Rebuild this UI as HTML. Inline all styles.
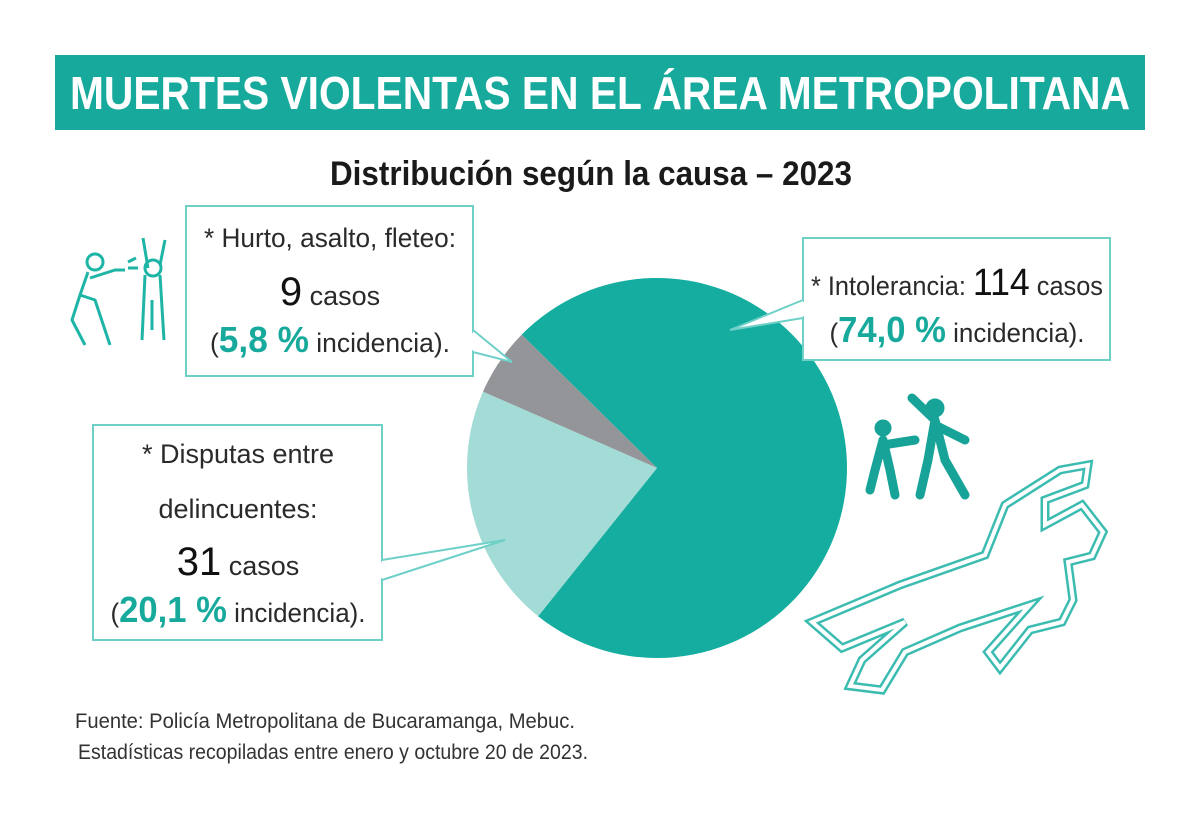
<!DOCTYPE html>
<html><head><meta charset="utf-8"><style>html,body{margin:0;padding:0;background:#fff}svg{display:block}</style></head>
<body>
<svg width="1200" height="820" viewBox="0 0 1200 820" xmlns="http://www.w3.org/2000/svg" font-family="'Liberation Sans Narrow','Liberation Sans',sans-serif">
<rect x="55" y="55" width="1090" height="75" fill="#17aa9c"/>
<text x="600" y="109" text-anchor="middle" fill="#fff" font-weight="bold" font-size="46" textLength="1060" lengthAdjust="spacingAndGlyphs">MUERTES VIOLENTAS EN EL ÁREA METROPOLITANA</text>
<text x="591" y="185" text-anchor="middle" fill="#1a1a1a" font-weight="bold" font-size="34" textLength="522" lengthAdjust="spacingAndGlyphs">Distribución según la causa – 2023</text>

<!-- pie: center 657,470 r 190 -->
<g transform="translate(657,468)">
<path d="M0,0 L-135.3,-133.4 A190,190 0 1 1 -118.9,148.2 Z" fill="#14ada0"/>
<path d="M0,0 L-135.3,-133.4 A190,190 0 0 0 -174,-76.3 Z" fill="#939598"/>
<path d="M0,0 L-174,-76.3 A190,190 0 0 0 -118.9,148.2 Z" fill="#a3dbd6"/>
</g>

<!-- callouts -->
<g fill="#fff" stroke="#6fd0c8" stroke-width="2">
<path d="M186,206 H473 V376 H186 Z"/>
<path d="M473,330 L512,362 L473,352" fill="#fff"/>
<path d="M93,425 H382 V640 H93 Z"/>
<path d="M382,560 L505,540 L382,580" fill="#fff"/>
<path d="M803,238 H1110 V360 H803 Z"/>
<path d="M803,300 L730,330 L803,318" fill="#fff"/>
</g>
<g fill="#fff"><rect x="471" y="333" width="4" height="17"/><rect x="380" y="562" width="4" height="16"/><rect x="801" y="302" width="4" height="14"/></g>

<g font-size="27" fill="#2a2a2a">
<text x="330" y="247" text-anchor="middle" textLength="252" lengthAdjust="spacingAndGlyphs">* Hurto, asalto, fleteo:</text>
<text x="330" y="305" text-anchor="middle"><tspan font-size="40" fill="#111">9</tspan> casos</text>
<text x="330" y="352" text-anchor="middle" textLength="240" lengthAdjust="spacingAndGlyphs">(<tspan font-size="36" fill="#17aa9c" font-weight="bold">5,8 %</tspan> incidencia).</text>

<text x="238" y="463" text-anchor="middle">* Disputas entre</text>
<text x="238" y="518" text-anchor="middle">delincuentes:</text>
<text x="238" y="575" text-anchor="middle"><tspan font-size="40" fill="#111">31</tspan> casos</text>
<text x="238" y="622" text-anchor="middle" textLength="255" lengthAdjust="spacingAndGlyphs">(<tspan font-size="36" fill="#17aa9c" font-weight="bold">20,1 %</tspan> incidencia).</text>

<text x="957" y="295" text-anchor="middle" textLength="292" lengthAdjust="spacingAndGlyphs">* Intolerancia: <tspan font-size="38" fill="#111">114</tspan> casos</text>
<text x="957" y="342" text-anchor="middle" textLength="255" lengthAdjust="spacingAndGlyphs">(<tspan font-size="36" fill="#17aa9c" font-weight="bold">74,0 %</tspan> incidencia).</text>
</g>

<g font-size="21" fill="#333">
<text x="75" y="728" textLength="500" lengthAdjust="spacingAndGlyphs">Fuente: Policía Metropolitana de Bucaramanga, Mebuc.</text>
<text x="78" y="759" textLength="510" lengthAdjust="spacingAndGlyphs">Estadísticas recopiladas entre enero y octubre 20 de 2023.</text>
</g>

<!-- robbery icon -->
<g fill="none" stroke="#1eb5a6" stroke-width="3" stroke-linejoin="round">
<circle cx="95" cy="262" r="8"/>
<path d="M88,272 L80,295 L72,320 L85,345 M80,295 L95,300 L110,345 M90,278 L115,270 L125,270"/>
<circle cx="153" cy="268" r="8"/>
<path d="M143,238 L148,268 M165,240 L160,265 M145,275 L142,340 M160,275 L164,340 M152,300 L152,330"/>
<path d="M128,262 L136,258 M128,268 L138,268"/>
</g>
<!-- fight icon -->
<g fill="#17a397" stroke="#17a397" stroke-linecap="round">
<circle cx="883" cy="428" r="8"/><circle cx="935" cy="408" r="9"/>
<path d="M883,440 L875,470 L870,490 M883,440 L890,470 L895,495 M883,445 L915,440 M935,420 L928,460 L920,495 M935,420 L945,460 L965,495 M935,420 L912,398 M935,425 L965,440" stroke-width="9" fill="none"/>
</g>
<!-- body outline -->
<g fill="none" stroke-linejoin="miter">
<path id="b" d="M812,622 L900,585 L985,555 L1005,505 L1060,470 L1088,465 L1085,485 L1045,500 L1045,525 L1082,505 L1103,532 L1092,556 L1068,562 L1073,600 L1062,622 L1030,630 L1000,668 L988,652 L1030,605 L960,628 L905,652 L882,690 L850,686 L862,660 L905,622 L842,648 Z" stroke="#3cbcb0" stroke-width="9"/>
<path d="M812,622 L900,585 L985,555 L1005,505 L1060,470 L1088,465 L1085,485 L1045,500 L1045,525 L1082,505 L1103,532 L1092,556 L1068,562 L1073,600 L1062,622 L1030,630 L1000,668 L988,652 L1030,605 L960,628 L905,652 L882,690 L850,686 L862,660 L905,622 L842,648 Z" stroke="#fff" stroke-width="4"/>
</g>
</svg>
</body></html>
